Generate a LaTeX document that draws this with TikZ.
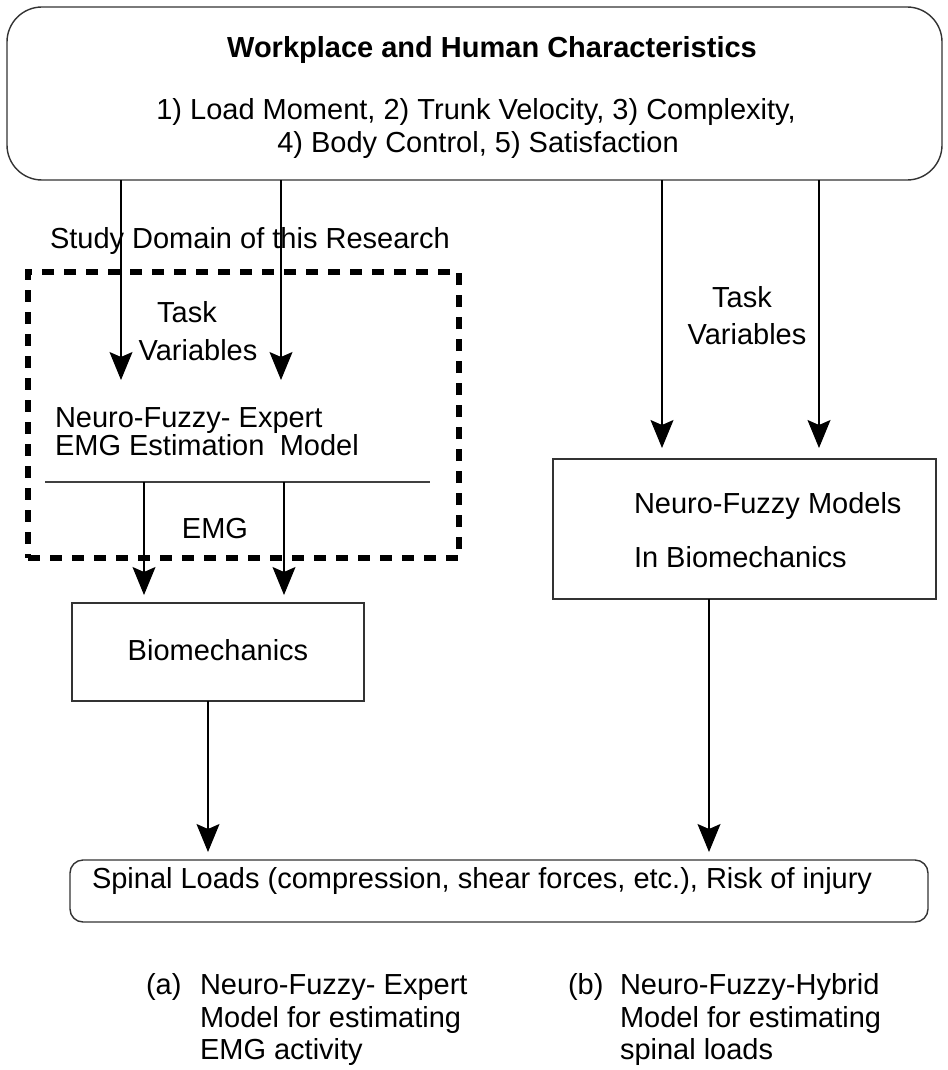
\documentclass[tikz,border=0pt]{standalone}
\usepackage{fontspec}
\setmainfont{Liberation Sans}
\usetikzlibrary{arrows.meta}
\tikzset{bigtip/.tip={Stealth[length=28pt,width=23pt,inset=5pt]}}
\begin{document}
\begin{tikzpicture}[x=1pt,y=1pt,
  every node/.style={inner sep=0pt,outer sep=0pt},
  txt/.style={font=\fontsize{29}{33}\selectfont},
  ttl/.style={font=\fontsize{29}{33}\selectfont\bfseries},
  boxline/.style={draw=black!80,line width=1.4pt},
  arr/.style={line width=1.1pt,draw=black,-bigtip},
  plain/.style={line width=1.1pt,draw=black!75},
  domainbox/.style={draw=black,line width=5.5pt,dash pattern=on 12pt off 10pt}
]
\useasboundingbox (0,0) rectangle (947,-1070);

% top box
\node[boxline,rounded corners=35pt,minimum width=935pt,minimum height=173pt,anchor=north west] (top) at (7,-7) {};
\node[ttl,anchor=base] (title) at (492,-58) {Workplace and Human Characteristics};
\node[txt,anchor=base] (ch1) at (476,-120) {1) Load Moment, 2) Trunk Velocity, 3) Complexity,};
\node[txt,anchor=base] (ch2) at (478,-153) {4) Body Control, 5) Satisfaction};

% study domain
\node[txt,anchor=base west] (study) at (50,-248) {Study Domain of this Research};
\node[domainbox,minimum width=431pt,minimum height=286pt,anchor=north west] (dom) at (28,-272) {};
\node[txt,anchor=base] (task1a) at (187,-322) {Task};
\node[txt,anchor=base] (task1b) at (198,-360) {Variables};
\node[txt,anchor=base west] (nfe1) at (55,-427) {Neuro-Fuzzy- Expert};
\node[txt,anchor=base west] (nfe2) at (55,-455) {EMG Estimation\hspace{0.25em} Model};
\coordinate (hlL) at (45,-482);
\coordinate (hlR) at (430,-482);
\draw[plain] (hlL) -- (hlR);
\node[txt,anchor=base] (emg) at (215,-538) {EMG};

% biomechanics
\node[boxline,minimum width=292pt,minimum height=98pt,anchor=north west] (bio) at (72,-603) {};
\node[txt,anchor=base] (biot) at (218,-660) {Biomechanics};

% right side
\node[txt,anchor=base] (task2a) at (742,-307) {Task};
\node[txt,anchor=base] (task2b) at (747,-344) {Variables};
\node[boxline,minimum width=383pt,minimum height=140pt,anchor=north west] (nfm) at (553,-459) {};
\node[txt,anchor=base west] (nfm1) at (634,-513) {Neuro-Fuzzy Models};
\node[txt,anchor=base west] (nfm2) at (634,-567) {In Biomechanics};

% spinal loads
\node[boxline,rounded corners=13pt,minimum width=858pt,minimum height=62pt,anchor=north west] (spinal) at (70,-860) {};
\node[txt,anchor=base west] (spt) at (92,-888) {Spinal Loads (compression, shear forces, etc.), Risk of injury};

% captions
\node[txt,anchor=base west] (capa) at (146,-994) {(a)};
\node[txt,anchor=base west] (capa1) at (200,-994) {Neuro-Fuzzy- Expert};
\node[txt,anchor=base west] (capa2) at (200,-1027) {Model for estimating};
\node[txt,anchor=base west] (capa3) at (200,-1059) {EMG activity};
\node[txt,anchor=base west] (capb) at (568,-994) {(b)};
\node[txt,anchor=base west] (capb1) at (620,-994) {Neuro-Fuzzy-Hybrid};
\node[txt,anchor=base west] (capb2) at (620,-1027) {Model for estimating};
\node[txt,anchor=base west] (capb3) at (620,-1059) {spinal loads};

% connectors
\coordinate (t1) at (121,-380);
\coordinate (t2) at (281,-380);
\draw[arr] (top.south -| t1) -- (t1);
\draw[arr] (top.south -| t2) -- (t2);
\coordinate (e1) at (144,-482);
\coordinate (e2) at (284,-482);
\draw[arr,shorten >=8pt] (e1) -- (bio.north -| e1);
\draw[arr,shorten >=8pt] (e2) -- (bio.north -| e2);
\coordinate (r1) at (662,0);
\coordinate (r2) at (819,0);
\draw[arr,shorten >=11pt] (top.south -| r1) -- (nfm.north -| r1);
\draw[arr,shorten >=11pt] (top.south -| r2) -- (nfm.north -| r2);
\coordinate (b1) at (208,0);
\coordinate (b2) at (709,0);
\draw[arr,shorten >=8pt] (bio.south -| b1) -- (spinal.north -| b1);
\draw[arr,shorten >=8pt] (nfm.south -| b2) -- (spinal.north -| b2);
\end{tikzpicture}
\end{document}
